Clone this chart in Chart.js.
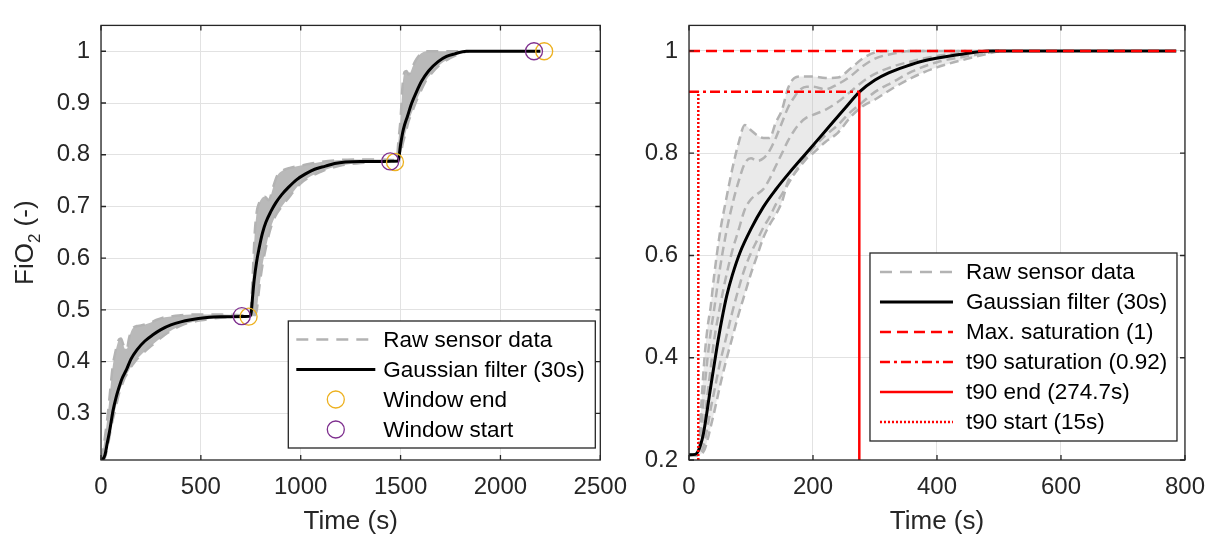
<!DOCTYPE html>
<html>
<head>
<meta charset="utf-8">
<title>FiO2 step response</title>
<script src="https://cdn.jsdelivr.net/npm/chart.js@4.4.1/dist/chart.umd.min.js"></script>
<style>
  html, body { margin: 0; padding: 0; background: #fff; }
  #wrap { position: relative; width: 1218px; height: 540px; }
  .panel { position: absolute; top: 0; height: 540px; }
</style>
</head>
<body>
<div id="wrap">
  <div class="panel" style="left:0;width:640px"><canvas id="left"></canvas></div>
  <div class="panel" style="left:640px;width:578px"><canvas id="right"></canvas></div>
</div>
<script>
// ---------- left panel : three steps ----------
// raw sensor band (upper / lower edge of the grey traces)
const rawTime1 = [0,10,20,30,40,50,60,70,80,90,100,110,120,130,140,150,160,180,200,220,250,280,320,360,400,450,500,
  600,700,740,750,760,770,780,790,800,810,820,840,860,880,900,950,1000,1100,1200,1300,1400,1480,1490,
  1500,1510,1520,1530,1540,1550,1560,1580,1600,1630,1650,1700,1750,1800,1840];
const rawHigh1 = [0.21,0.23,0.255,0.285,0.32,0.36,0.395,0.415,0.432,0.443,0.445,0.435,0.425,0.425,0.445,0.458,0.465,0.469,0.47,0.472,0.476,0.481,0.486,0.488,0.49,0.491,0.491,
  0.491,0.49,0.489,0.50,0.57,0.65,0.69,0.705,0.713,0.718,0.719,0.712,0.735,0.758,0.767,0.775,0.779,0.786,0.79,0.791,0.791,0.79,0.83,
  0.87,0.935,0.96,0.962,0.955,0.96,0.97,0.985,0.995,1.0,1.0,1.0,1.0,1.0,1.0];
const rawLow1 = [0.21,0.21,0.215,0.23,0.25,0.272,0.29,0.305,0.322,0.338,0.35,0.36,0.37,0.376,0.383,0.39,0.395,0.405,0.413,0.42,0.43,0.44,0.452,0.462,0.47,0.476,0.48,
  0.485,0.487,0.487,0.487,0.488,0.49,0.50,0.535,0.565,0.59,0.61,0.645,0.67,0.686,0.697,0.722,0.745,0.767,0.779,0.784,0.787,0.787,0.787,
  0.80,0.82,0.835,0.85,0.865,0.875,0.885,0.905,0.922,0.945,0.955,0.975,0.987,0.996,1.0];
// gaussian filtered signal
const filtTime1 = [0,10,20,30,45,60,75,90,105,128,150,180,220,260,300,350,400,450,520,600,745,
  752,760,767,780,792,808,825,850,875,905,941,980,1024,1070,1124,1170,1223,1300,1488,
  1500,1514,1535,1555,1580,1605,1640,1688,1730,1771,1830,2200];
const filtFiO2_1 = [0.21,0.212,0.22,0.24,0.27,0.305,0.33,0.35,0.367,0.385,0.405,0.423,0.44,0.452,0.462,0.471,0.477,0.481,0.485,0.487,0.488,
  0.495,0.53,0.558,0.595,0.62,0.648,0.669,0.69,0.707,0.723,0.738,0.752,0.763,0.772,0.778,0.783,0.786,0.787,0.788,
  0.82,0.849,0.875,0.899,0.922,0.942,0.962,0.98,0.99,0.995,1.0,1.0];
const winEndTime = [739, 1472, 2219];
const winEndFiO2 = [0.487, 0.786, 1.0];
const winStartTime = [705, 1448, 2168];
const winStartFiO2 = [0.488, 0.787, 1.0];
const xTicks1 = [0, 500, 1000, 1500, 2000, 2500];
const yTicks1 = [0.3, 0.4, 0.5, 0.6, 0.7, 0.8, 0.9, 1];
const legendLabels1 = ['Raw sensor data', 'Gaussian filter (30s)', 'Window end', 'Window start'];

// ---------- right panel : single step 0.21 -> 1 ----------
const rawTime2 = [0,15,20,25,30,35,40,50,60,70,80,90,100,110,120,130,140,150,160,170,180,190,200,220,240,260,280,300,330,360,400,450,500];
const rawA = [0.21,0.21,0.31,0.40,0.46,0.50,0.555,0.645,0.71,0.77,0.82,0.855,0.845,0.835,0.83,0.83,0.86,0.885,0.928,0.947,0.95,0.95,0.95,0.947,0.948,0.965,0.985,0.997,1.0,1.0,1.0,1.0,1.0];
const rawB = [0.21,0.21,0.27,0.34,0.40,0.45,0.49,0.575,0.645,0.70,0.745,0.78,0.79,0.785,0.79,0.805,0.83,0.86,0.89,0.91,0.925,0.93,0.93,0.925,0.935,0.95,0.97,0.985,0.995,1.0,1.0,1.0,1.0];
const rawC = [0.21,0.21,0.235,0.28,0.33,0.38,0.43,0.50,0.56,0.61,0.65,0.69,0.71,0.72,0.73,0.75,0.775,0.80,0.825,0.845,0.86,0.87,0.875,0.885,0.90,0.92,0.94,0.955,0.97,0.98,0.99,0.997,1.0];
const rawD = [0.21,0.21,0.215,0.235,0.265,0.30,0.33,0.39,0.44,0.49,0.535,0.575,0.605,0.63,0.655,0.675,0.70,0.72,0.74,0.76,0.78,0.795,0.81,0.835,0.855,0.88,0.90,0.92,0.94,0.96,0.978,0.99,1.0];
const rawE = [0.21,0.21,0.212,0.22,0.24,0.265,0.29,0.345,0.395,0.44,0.485,0.525,0.565,0.60,0.635,0.66,0.68,0.705,0.746,0.76,0.775,0.79,0.80,0.822,0.84,0.87,0.892,0.905,0.928,0.948,0.968,0.985,1.0];
const filtTime2 = [0,10,15,23,34,45,53,61,70,82,100,120,140,162,189,221,253,275,300,322,350,376,436,484,786];
const filtFiO2_2 = [0.21,0.211,0.218,0.25,0.335,0.42,0.475,0.522,0.562,0.605,0.652,0.695,0.729,0.762,0.80,0.845,0.89,0.92,0.943,0.957,0.97,0.98,0.993,1.0,1.0];
const maxSaturation = 1;
const t90Saturation = 0.92;
const t90End = 274.7;
const t90Start = 15;
const timeEnd2 = 786;
const xTicks2 = [0, 200, 400, 600, 800];
const yTicks2 = [0.2, 0.4, 0.6, 0.8, 1];
const legendLabels2 = ['Raw sensor data', 'Gaussian filter (30s)', 'Max. saturation (1)', 't90 saturation (0.92)', 't90 end (274.7s)', 't90 start (15s)'];

const FONT = '"Liberation Sans", Arial, Helvetica, sans-serif';
const AXIS = '#262626';
const GREY = '#b3b3b3';
const RED = '#ff0000';

Chart.defaults.font.family = FONT;
Chart.defaults.color = AXIS;

const pts = (xs, ys) => xs.map((x, i) => ({ x: x, y: ys[i] }));

// box, inward ticks, axis titles and legend drawn the MATLAB way
const matlabAxes = {
  id: 'matlabAxes',
  afterDraw(chart, args, opts) {
    const ctx = chart.ctx;
    const a = chart.chartArea;
    const xs = chart.scales.x, ys = chart.scales.y;
    ctx.save();

    ctx.strokeStyle = AXIS;
    ctx.lineWidth = 1.3;
    ctx.setLineDash([]);
    ctx.strokeRect(a.left, a.top, a.right - a.left, a.bottom - a.top);
    ctx.beginPath();
    xs.ticks.forEach(t => {
      const px = xs.getPixelForValue(t.value);
      ctx.moveTo(px, a.bottom); ctx.lineTo(px, a.bottom - 5);
      ctx.moveTo(px, a.top); ctx.lineTo(px, a.top + 5);
    });
    ys.ticks.forEach(t => {
      const py = ys.getPixelForValue(t.value);
      ctx.moveTo(a.left, py); ctx.lineTo(a.left + 5, py);
      ctx.moveTo(a.right, py); ctx.lineTo(a.right - 5, py);
    });
    ctx.stroke();

    // x title
    ctx.fillStyle = AXIS;
    ctx.font = '26px ' + FONT;
    ctx.textAlign = 'center';
    ctx.textBaseline = 'alphabetic';
    ctx.fillText('Time (s)', (a.left + a.right) / 2, a.bottom + 69);

    // y title with subscript
    if (opts.yTitle) {
      ctx.save();
      ctx.translate(opts.yTitleX, (a.top + a.bottom) / 2);
      ctx.rotate(-Math.PI / 2);
      ctx.textAlign = 'left';
      const big = '26px ' + FONT, small = '17px ' + FONT;
      ctx.font = big; const w1 = ctx.measureText('FiO').width, w3 = ctx.measureText(' (-)').width;
      ctx.font = small; const w2 = ctx.measureText('2').width;
      let x0 = -(w1 + w2 + w3) / 2;
      ctx.font = big; ctx.fillText('FiO', x0, 0);
      ctx.font = small; ctx.fillText('2', x0 + w1, 7);
      ctx.font = big; ctx.fillText(' (-)', x0 + w1 + w2, 0);
      ctx.restore();
    }

    // legend box
    const L = opts.legend;
    const n = L.items.length;
    const h = L.rowH * (n - 1) + 2 * L.padY;
    const right = a.right - L.right, bottom = a.bottom - L.bottom;
    const left = right - L.width, top = bottom - h;
    ctx.fillStyle = '#fff';
    ctx.fillRect(left, top, L.width, h);
    ctx.strokeStyle = AXIS;
    ctx.lineWidth = 1.3;
    ctx.strokeRect(left, top, L.width, h);
    L.items.forEach((it, i) => {
      const ds = chart.data.datasets[it.ds];
      const cy = top + L.padY + i * L.rowH;
      ctx.strokeStyle = ds.borderColor;
      ctx.lineWidth = ds.borderWidth;
      if (ds.showLine === false) {
        ctx.setLineDash([]);
        ctx.beginPath();
        ctx.arc(left + L.lineX + L.lineLen / 2, cy, ds.pointRadius, 0, Math.PI * 2);
        ctx.stroke();
      } else {
        ctx.setLineDash(it.dash || ds.borderDash || []);
        ctx.beginPath();
        ctx.moveTo(left + L.lineX, cy);
        ctx.lineTo(left + L.lineX + L.lineLen, cy);
        ctx.stroke();
      }
      ctx.setLineDash([]);
      ctx.fillStyle = '#000';
      ctx.font = '22.5px ' + FONT;
      ctx.textAlign = 'left';
      ctx.textBaseline = 'middle';
      ctx.fillText(it.label, left + L.textX, cy + 1);
    });
    ctx.restore();
  }
};

function axesOptions(cfg) {
  return {
    responsive: true,
    maintainAspectRatio: false,
    animation: false,
    layout: { padding: { left: 0, right: cfg.rightPad, top: 9, bottom: 0 } },
    elements: { point: { radius: 0 } },
    plugins: {
      legend: { display: false },
      tooltip: { enabled: false },
      matlabAxes: cfg.extra
    },
    scales: {
      x: {
        type: 'linear', min: cfg.xTicks[0], max: cfg.xTicks[cfg.xTicks.length - 1],
        afterBuildTicks: s => { s.ticks = cfg.xTicks.map(v => ({ value: v })); },
        afterFit: s => { s.height = 80; },
        grid: { color: '#e2e2e2', drawTicks: false },
        border: { display: false },
        ticks: { font: { size: 24 }, padding: 13, maxRotation: 0, callback: v => String(v) }
      },
      y: {
        type: 'linear', min: cfg.yMin, max: cfg.yMax,
        afterBuildTicks: s => { s.ticks = cfg.yTicks.map(v => ({ value: v })); },
        afterFit: s => { s.width = cfg.yWidth; },
        grid: { color: '#e2e2e2', drawTicks: false },
        border: { display: false },
        ticks: { font: { size: 24 }, padding: 11, callback: v => String(v) }
      }
    }
  };
}

// left chart
new Chart(document.getElementById('left'), {
  type: 'line',
  data: {
    datasets: [
      { data: pts(rawTime1, rawHigh1), borderColor: GREY, borderWidth: 2.5, borderDash: [12, 8],
        fill: false, cubicInterpolationMode: 'monotone', order: 10 },
      { data: pts(rawTime1, rawLow1), borderColor: GREY, borderWidth: 2.5, borderDash: [12, 8],
        backgroundColor: '#b9b9b9', fill: '-1', cubicInterpolationMode: 'monotone', order: 10 },
      { data: pts(filtTime1, filtFiO2_1), borderColor: '#000', borderWidth: 3,
        fill: false, cubicInterpolationMode: 'monotone', order: 5 },
      { data: pts(winEndTime, winEndFiO2), showLine: false, pointStyle: 'circle', pointRadius: 8.5,
        borderColor: '#EDB120', backgroundColor: 'rgba(0,0,0,0)', borderWidth: 1.3, order: 2 },
      { data: pts(winStartTime, winStartFiO2), showLine: false, pointStyle: 'circle', pointRadius: 8.5,
        borderColor: '#7E2F8E', backgroundColor: 'rgba(0,0,0,0)', borderWidth: 1.3, order: 1 }
    ]
  },
  options: axesOptions({
    rightPad: 37, yWidth: 101, yMin: 0.21, yMax: 1.05, xTicks: xTicks1, yTicks: yTicks1,
    extra: {
      yTitle: true, yTitleX: 33,
      legend: {
        right: 5, bottom: 12, width: 307, rowH: 30, padY: 18.5, lineX: 8, lineLen: 79, textX: 95,
        items: [
          { label: legendLabels1[0], ds: 0 },
          { label: legendLabels1[1], ds: 2 },
          { label: legendLabels1[2], ds: 3 },
          { label: legendLabels1[3], ds: 4 }
        ]
      }
    }
  }),
  plugins: [matlabAxes]
});

// right chart
const greyTrace = (ys, extra) => Object.assign({
  data: pts(rawTime2, ys), borderColor: GREY, borderWidth: 2.5, borderDash: [9, 5],
  fill: false, cubicInterpolationMode: 'monotone', order: 10
}, extra || {});

new Chart(document.getElementById('right'), {
  type: 'line',
  data: {
    datasets: [
      greyTrace(rawA),
      greyTrace(rawE, { fill: '-1', backgroundColor: 'rgba(179,179,179,0.28)' }),
      greyTrace(rawB),
      greyTrace(rawC),
      greyTrace(rawD),
      { data: pts(filtTime2, filtFiO2_2), borderColor: '#000', borderWidth: 3,
        fill: false, cubicInterpolationMode: 'monotone', order: 5 },
      { data: pts([0, timeEnd2], [maxSaturation, maxSaturation]), borderColor: RED, borderWidth: 2.5,
        borderDash: [11, 6], fill: false, order: 3 },
      { data: pts([0, t90End], [t90Saturation, t90Saturation]), borderColor: RED, borderWidth: 2.5,
        borderDash: [10, 4, 3, 4], fill: false, order: 3 },
      { data: pts([t90End, t90End], [yTicks2[0], t90Saturation]), borderColor: RED, borderWidth: 2.5,
        fill: false, order: 3 },
      { data: pts([t90Start, t90Start], [yTicks2[0], t90Saturation]), borderColor: RED, borderWidth: 2.5,
        borderDash: [2, 2], fill: false, order: 3 }
    ]
  },
  options: axesOptions({
    rightPad: 26, yWidth: 49, yMin: 0.2, yMax: 1.05, xTicks: xTicks2, yTicks: yTicks2,
    extra: {
      yTitle: false,
      legend: {
        right: 8, bottom: 19, width: 307, rowH: 30, padY: 19, lineX: 10, lineLen: 73, textX: 96,
        items: [
          { label: legendLabels2[0], ds: 0, dash: [12, 8] },
          { label: legendLabels2[1], ds: 5 },
          { label: legendLabels2[2], ds: 6 },
          { label: legendLabels2[3], ds: 7 },
          { label: legendLabels2[4], ds: 8 },
          { label: legendLabels2[5], ds: 9 }
        ]
      }
    }
  }),
  plugins: [matlabAxes]
});
</script>
</body>
</html>
